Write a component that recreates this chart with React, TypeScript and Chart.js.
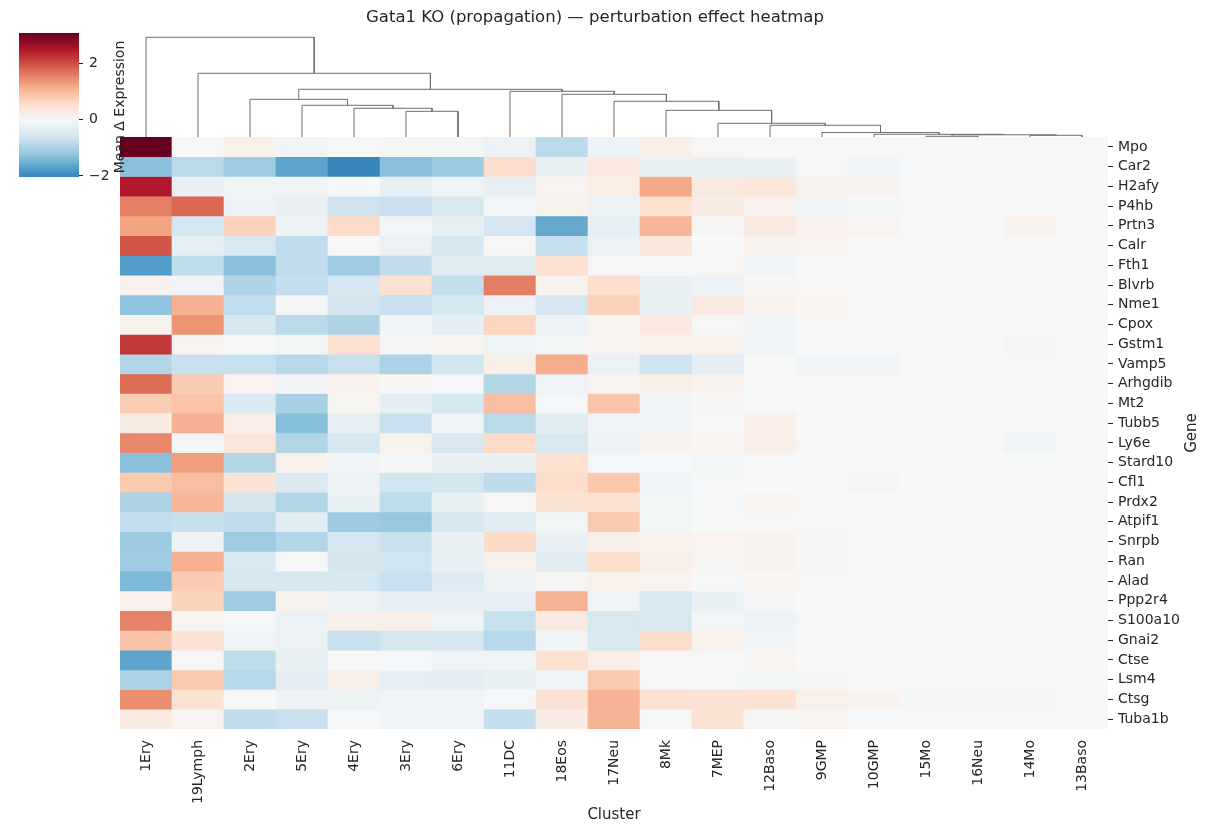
import React, { useEffect, useRef } from 'react';
import { Chart, registerables } from 'chart.js';

Chart.register(...registerables);

const FONT = "'DejaVu Sans', 'Liberation Sans', sans-serif";
const TEXT = '#262626';

const titleText = 'Gata1 KO (propagation) — perturbation effect heatmap';
const xAxisTitle = 'Cluster';
const yAxisTitle = 'Gene';
const colorbarTitle = 'Mean Δ Expression';

// Column order (leaf order of the column dendrogram)
const clusters = [
  '1Ery', '19Lymph', '2Ery', '5Ery', '4Ery', '3Ery', '6Ery', '11DC', '18Eos', '17Neu',
  '8Mk', '7MEP', '12Baso', '9GMP', '10GMP', '15Mo', '16Neu', '14Mo', '13Baso',
];

const genes = [
  'Mpo', 'Car2', 'H2afy', 'P4hb', 'Prtn3', 'Calr', 'Fth1', 'Blvrb', 'Nme1', 'Cpox',
  'Gstm1', 'Vamp5', 'Arhgdib', 'Mt2', 'Tubb5', 'Ly6e', 'Stard10', 'Cfl1', 'Prdx2', 'Atpif1',
  'Snrpb', 'Ran', 'Alad', 'Ppp2r4', 'S100a10', 'Gnai2', 'Ctse', 'Lsm4', 'Ctsg', 'Tuba1b',
];

// Mean Δ expression, one row per gene, one value per cluster (column order above)
const effectMatrix = [
  [3.1, -0.03, 0.15, -0.12, -0.03, -0.05, -0.08, -0.2, -0.85, -0.18, 0.18, 0.03, 0.01, 0.0, -0.02, -0.03, -0.03, -0.02, -0.02],
  [-1.3, -0.85, -1.1, -1.65, -2.04, -1.3, -1.15, 0.55, -0.22, 0.3, -0.22, -0.24, -0.22, -0.03, -0.1, -0.03, -0.01, -0.03, -0.03],
  [2.5, -0.25, -0.15, -0.12, -0.01, -0.27, -0.15, -0.26, 0.08, 0.22, 1.2, 0.3, 0.38, 0.15, 0.12, -0.02, -0.02, -0.02, 0.0],
  [1.58, 1.8, -0.17, -0.22, -0.65, -0.7, -0.5, -0.08, 0.12, -0.18, 0.5, 0.25, 0.15, -0.1, -0.05, -0.02, -0.02, -0.02, -0.02],
  [1.25, -0.55, 0.72, -0.18, 0.58, -0.08, -0.27, -0.57, -1.6, -0.28, 1.05, 0.05, 0.3, 0.13, 0.08, 0.0, 0.01, 0.1, 0.0],
  [1.95, -0.28, -0.5, -0.78, -0.02, -0.2, -0.55, -0.02, -0.72, -0.2, 0.35, 0.0, 0.1, 0.08, -0.02, -0.02, -0.03, -0.02, -0.02],
  [-1.75, -0.8, -1.3, -0.78, -1.12, -0.78, -0.35, -0.35, 0.5, -0.04, -0.01, 0.03, -0.12, -0.01, -0.03, -0.03, 0.0, -0.02, -0.02],
  [0.1, -0.1, -0.95, -0.76, -0.56, 0.5, -0.75, 1.6, 0.1, 0.55, -0.23, -0.18, 0.05, 0.03, 0.0, 0.0, 0.0, 0.0, 0.0],
  [-1.25, 1.1, -0.76, -0.07, -0.58, -0.7, -0.56, -0.2, -0.56, 0.72, -0.22, 0.3, 0.1, 0.07, 0.01, -0.02, -0.03, -0.02, -0.03],
  [0.1, 1.4, -0.55, -0.85, -0.95, -0.12, -0.3, 0.68, -0.2, 0.07, 0.3, -0.02, -0.12, -0.02, -0.02, -0.01, -0.01, -0.01, -0.02],
  [2.2, 0.06, -0.03, -0.08, 0.5, -0.07, 0.06, -0.14, -0.08, 0.08, 0.15, 0.15, -0.1, 0.0, -0.02, 0.0, 0.0, 0.04, 0.0],
  [-0.92, -0.7, -0.7, -0.87, -0.7, -0.98, -0.6, 0.18, 1.15, -0.2, -0.65, -0.3, -0.01, -0.1, -0.1, -0.01, -0.01, -0.02, -0.01],
  [1.75, 0.82, 0.08, -0.1, 0.13, 0.05, -0.03, -0.92, -0.15, 0.09, 0.18, 0.12, -0.01, -0.02, -0.02, -0.03, -0.02, -0.02, -0.02],
  [0.78, 0.88, -0.48, -1.02, 0.07, -0.3, -0.56, 0.95, -0.03, 0.88, -0.1, 0.05, -0.02, -0.01, -0.01, -0.01, -0.01, -0.01, -0.01],
  [0.25, 1.1, 0.2, -1.32, -0.28, -0.7, -0.1, -0.85, -0.35, -0.1, -0.1, 0.0, 0.2, 0.0, -0.02, 0.0, -0.02, -0.02, 0.0],
  [1.5, -0.06, 0.35, -0.92, -0.55, 0.1, -0.5, 0.58, -0.5, -0.18, 0.12, 0.07, 0.2, -0.02, -0.03, -0.03, -0.03, -0.1, -0.03],
  [-1.3, 1.3, -0.92, 0.15, -0.1, -0.05, -0.22, -0.22, 0.5, -0.03, -0.03, -0.08, -0.03, -0.01, -0.03, -0.01, -0.01, -0.01, -0.01],
  [0.82, 0.95, 0.45, -0.48, -0.2, -0.58, -0.58, -0.82, 0.55, 0.85, -0.1, -0.04, 0.0, 0.0, -0.05, 0.0, 0.0, 0.0, -0.02],
  [-0.95, 1.05, -0.58, -0.92, -0.22, -0.8, -0.22, -0.02, 0.45, 0.5, -0.08, -0.03, 0.06, -0.02, -0.01, -0.03, -0.03, -0.03, -0.03],
  [-0.76, -0.72, -0.78, -0.35, -1.15, -1.17, -0.55, -0.38, -0.08, 0.82, -0.08, -0.01, -0.02, -0.02, -0.02, -0.02, -0.02, -0.02, -0.02],
  [-1.15, -0.17, -1.12, -0.93, -0.56, -0.68, -0.22, 0.62, -0.22, 0.18, 0.12, 0.08, 0.12, 0.05, -0.03, -0.03, -0.03, -0.03, -0.03],
  [-1.12, 1.12, -0.5, -0.03, -0.58, -0.6, -0.22, 0.15, -0.35, 0.55, 0.18, 0.05, 0.1, 0.05, -0.03, -0.03, -0.03, -0.03, -0.03],
  [-1.4, 0.8, -0.56, -0.56, -0.56, -0.7, -0.4, -0.17, 0.05, 0.15, 0.08, -0.03, 0.07, -0.03, -0.03, -0.03, -0.03, -0.03, -0.03],
  [0.13, 0.7, -1.12, 0.1, -0.17, -0.27, -0.28, -0.28, 1.08, -0.12, -0.52, -0.22, -0.07, 0.0, -0.01, -0.01, -0.01, -0.03, -0.03],
  [1.55, 0.08, -0.03, -0.2, 0.17, 0.17, -0.15, -0.7, 0.3, -0.52, -0.5, -0.08, -0.18, -0.02, -0.03, -0.02, -0.02, -0.03, -0.02],
  [0.88, 0.45, -0.1, -0.2, -0.7, -0.55, -0.55, -0.88, -0.1, -0.52, 0.55, 0.15, -0.1, -0.02, -0.02, -0.02, -0.02, -0.02, -0.03],
  [-1.65, -0.02, -0.8, -0.25, -0.03, -0.03, -0.15, -0.12, 0.5, 0.22, -0.03, -0.02, 0.06, 0.0, -0.01, -0.01, -0.01, -0.01, -0.01],
  [-0.98, 0.83, -0.88, -0.3, 0.18, -0.28, -0.3, -0.25, -0.1, 0.82, -0.03, -0.03, -0.08, 0.05, -0.01, -0.03, -0.01, -0.01, -0.01],
  [1.45, 0.45, -0.01, -0.18, -0.17, -0.12, -0.12, -0.03, 0.45, 1.08, 0.48, 0.45, 0.45, 0.15, 0.13, -0.07, -0.07, 0.04, -0.02],
  [0.27, 0.06, -0.78, -0.7, -0.03, -0.12, -0.12, -0.76, 0.25, 1.08, 0.01, 0.45, 0.05, 0.07, -0.01, -0.02, -0.01, -0.02, -0.02],
];

// Column linkage (scipy style): [childA, childB, height]; leaves 0..18, new nodes from 19
const dendroLinks = [
  [15, 16, 0.7],
  [17, 18, 1.7],
  [19, 20, 2.2],
  [14, 21, 2.7],
  [13, 22, 4.5],
  [12, 23, 11.7],
  [11, 24, 13.7],
  [10, 25, 26.7],
  [9, 26, 35.7],
  [8, 27, 42.7],
  [7, 28, 45.7],
  [5, 6, 25.7],
  [4, 30, 28.7],
  [3, 31, 31.7],
  [2, 32, 37.7],
  [33, 29, 47.7],
  [1, 34, 63.7],
  [0, 35, 99.7],
];

const colorbarTicks = [-2, 0, 2];

// RdBu_r anchor colours
const rdbuR = [
  '#053061', '#2166ac', '#4393c3', '#92c5de', '#d1e5f0', '#f7f7f7',
  '#fddbc7', '#f4a582', '#d6604d', '#b2182b', '#67001f',
];

const allValues = effectMatrix.flat();
const vmin = Math.min(...allValues);
const vmax = Math.max(...allValues);
const vrange = Math.max(Math.abs(vmin), Math.abs(vmax));

function hexToRgb(h: string): number[] {
  const n = parseInt(h.slice(1), 16);
  return [(n >> 16) & 255, (n >> 8) & 255, n & 255];
}
const anchors = rdbuR.map(hexToRgb);

function colorFor(v: number): string {
  let t = (v + vrange) / (2 * vrange);
  t = Math.max(0, Math.min(1, t));
  const p = t * (anchors.length - 1);
  const i = Math.min(Math.floor(p), anchors.length - 2);
  const f = p - i;
  const a = anchors[i];
  const b = anchors[i + 1];
  const c = a.map((av, k) => Math.round(av + (b[k] - av) * f));
  return `rgb(${c[0]},${c[1]},${c[2]})`;
}

function drawText(ctx: CanvasRenderingContext2D, text: string, x: number, y: number, size: number, rot = 0) {
  ctx.save();
  ctx.translate(x, y);
  if (rot) ctx.rotate(rot);
  ctx.font = `${size}px ${FONT}`;
  ctx.fillStyle = TEXT;
  ctx.textAlign = 'center';
  ctx.textBaseline = 'middle';
  ctx.fillText(text, 0, 0);
  ctx.restore();
}

export default function App() {
  const mainRef = useRef<HTMLCanvasElement>(null);
  const dendroRef = useRef<HTMLCanvasElement>(null);
  const cbarRef = useRef<HTMLCanvasElement>(null);

  useEffect(() => {
    const charts: Chart[] = [];

    // ---------- Heatmap ----------
    const heatDatasets = genes.map((g, i) => ({
      label: g,
      data: clusters.map(() => [i, i + 1]),
      backgroundColor: effectMatrix[i].map((v) => colorFor(v)),
      borderWidth: 0,
      barPercentage: 1,
      categoryPercentage: 1,
      grouped: false,
    }));

    const textPlugin = {
      id: 'heatText',
      afterDraw(chart: any) {
        const ctx = chart.ctx;
        const ca = chart.chartArea;
        drawText(ctx, titleText, 595, 18, 16.5);
        drawText(ctx, yAxisTitle, 1192, (ca.top + ca.bottom) / 2, 15, -Math.PI / 2);
        drawText(ctx, xAxisTitle, (ca.left + ca.right) / 2, 815, 15);
      },
    };

    if (mainRef.current) {
      charts.push(
        new Chart(mainRef.current, {
          type: 'bar',
          data: { labels: clusters, datasets: heatDatasets as any },
          options: {
            responsive: false,
            animation: false,
            events: [],
            layout: { padding: { left: 120, top: 137, right: 0, bottom: 0 } },
            plugins: {
              legend: { display: false },
              tooltip: { enabled: false },
              title: { display: false },
            },
            scales: {
              x: {
                type: 'category',
                position: 'bottom',
                offset: true,
                grid: { display: false, drawTicks: false },
                border: { display: false },
                ticks: {
                  autoSkip: false,
                  minRotation: 90,
                  maxRotation: 90,
                  padding: 11,
                  color: TEXT,
                  font: { family: FONT, size: 14 },
                },
                afterFit: (s: any) => {
                  s.height = 104;
                },
              },
              y: {
                type: 'linear',
                position: 'right',
                min: 0,
                max: genes.length,
                reverse: true,
                grid: { drawOnChartArea: false, drawTicks: true, tickLength: 5, color: TEXT, lineWidth: 1 },
                border: { display: false },
                ticks: {
                  autoSkip: false,
                  padding: 5,
                  color: TEXT,
                  font: { family: FONT, size: 14 },
                  callback: (_v: any, i: number) => genes[i],
                },
                afterBuildTicks: (s: any) => {
                  s.ticks = genes.map((_, i) => ({ value: i + 0.5 }));
                },
                afterFit: (s: any) => {
                  s.width = 102;
                },
              },
            },
          } as any,
          plugins: [textPlugin],
        })
      );
    }

    // ---------- Column dendrogram ----------
    if (dendroRef.current) {
      const nLeaves = clusters.length;
      const pos: number[] = clusters.map((_, i) => i + 0.5);
      const hts: number[] = clusters.map(() => 0);
      const linkSets: any[] = [];
      dendroLinks.forEach(([a, b, h]) => {
        const xa = pos[a];
        const xb = pos[b];
        linkSets.push({
          data: [
            { x: xa, y: hts[a] },
            { x: xa, y: h },
            { x: xb, y: h },
            { x: xb, y: hts[b] },
          ],
          showLine: true,
          borderColor: '#6f6f6f',
          borderWidth: 1,
          pointRadius: 0,
          tension: 0,
          clip: false,
        });
        pos.push((xa + xb) / 2);
        hts.push(h);
      });
      const maxH = Math.max(...dendroLinks.map((l) => l[2]));
      const topY = maxH * 1.05;
      charts.push(
        new Chart(dendroRef.current, {
          type: 'scatter',
          data: { datasets: linkSets },
          options: {
            responsive: false,
            animation: false,
            events: [],
            layout: { padding: { left: 120, right: 102, top: 140 - 3 - topY, bottom: 3 } },
            plugins: { legend: { display: false }, tooltip: { enabled: false } },
            scales: {
              x: { type: 'linear', min: 0, max: nLeaves, display: false },
              y: { type: 'linear', min: 0, max: topY, display: false },
            },
          } as any,
        })
      );
    }

    // ---------- Colorbar ----------
    if (cbarRef.current) {
      const cbarLabelPlugin = {
        id: 'cbarLabel',
        afterDraw(chart: any) {
          const ca = chart.chartArea;
          drawText(chart.ctx, colorbarTitle, 120.5, (ca.top + ca.bottom) / 2 + 2, 14, -Math.PI / 2);
        },
      };
      charts.push(
        new Chart(cbarRef.current, {
          type: 'bar',
          data: {
            labels: ['cb'],
            datasets: [
              {
                data: [[vmin, vmax]],
                barPercentage: 1,
                categoryPercentage: 1,
                borderWidth: 0,
                backgroundColor: (c: any) => {
                  const chart = c.chart;
                  const ys = chart.scales && chart.scales.y;
                  if (!chart.chartArea || !ys) return '#f7f7f7';
                  const y0 = ys.getPixelForValue(vmin);
                  const y1 = ys.getPixelForValue(vmax);
                  const g = chart.ctx.createLinearGradient(0, y0, 0, y1);
                  const steps = 40;
                  for (let k = 0; k <= steps; k++) {
                    const t = k / steps;
                    g.addColorStop(t, colorFor(vmin + t * (vmax - vmin)));
                  }
                  return g;
                },
              },
            ],
          },
          options: {
            responsive: false,
            animation: false,
            events: [],
            layout: { padding: { left: 19, top: 33, right: 200 - 79 - 40, bottom: 200 - 177 } },
            plugins: { legend: { display: false }, tooltip: { enabled: false } },
            scales: {
              x: { type: 'category', display: false, offset: true },
              y: {
                type: 'linear',
                position: 'right',
                min: vmin,
                max: vmax,
                grid: { drawOnChartArea: false, drawTicks: true, tickLength: 4, color: TEXT },
                border: { display: false },
                ticks: {
                  padding: 6,
                  color: TEXT,
                  font: { family: FONT, size: 14 },
                  callback: (v: any) => String(v).replace('-', '\u2212'),
                },
                afterBuildTicks: (s: any) => {
                  s.ticks = colorbarTicks.map((v) => ({ value: v }));
                },
                afterFit: (s: any) => {
                  s.width = 40;
                },
              },
            },
          } as any,
          plugins: [cbarLabelPlugin],
        })
      );
    }

    return () => {
      charts.forEach((c) => c.destroy());
    };
  }, []);

  const abs: React.CSSProperties = { position: 'absolute', left: 0, top: 0, display: 'block' };
  return (
    <div style={{ position: 'absolute', left: 0, top: 0, width: 1210, height: 833, background: '#ffffff' }}>
      <canvas ref={mainRef} width={1210} height={833} style={abs} />
      <canvas ref={dendroRef} width={1210} height={140} style={abs} />
      <canvas ref={cbarRef} width={200} height={200} style={abs} />
    </div>
  );
}
